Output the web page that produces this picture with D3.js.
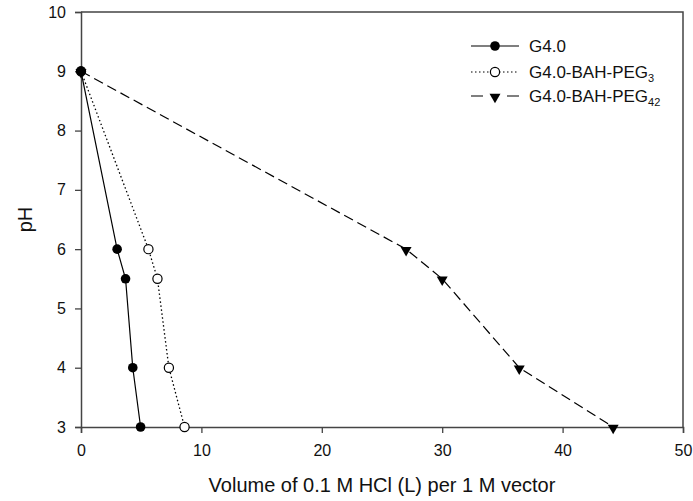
<!DOCTYPE html>
<html>
<head>
<meta charset="utf-8">
<script src="https://cdn.jsdelivr.net/npm/d3@7"></script>
<style>
  body { margin: 0; background: #fff; }
  text { font-family: "Liberation Sans", Arial, sans-serif; fill: #111; }
</style>
</head>
<body>
<div id="chart"></div>
<script>
var svgWidth = 693;
var svgHeight = 501;

// x = volume of HCl, y = pH
var phLevels = [9, 6, 5.5, 4, 3];
var g40 = [0, 3.0, 3.7, 4.3, 4.95];
var peg3 = [0, 5.6, 6.35, 7.3, 8.6];
var peg42 = [0, 27.0, 30.0, 36.4, 44.2];

var seriesNames = ["G4.0", "G4.0-BAH-PEG", "G4.0-BAH-PEG"];
var seriesSubs = ["", "3", "42"];

var xTicks = [0, 10, 20, 30, 40, 50];
var yTicks = [3, 4, 5, 6, 7, 8, 9, 10];

var margin = { top: 12, right: 10, bottom: 74, left: 81 };
var width = 683 - margin.left;
var height = 427 - margin.top;

var svg = d3.select("#chart")
  .append("svg")
  .attr("width", svgWidth)
  .attr("height", svgHeight);

var chartGroup = svg.append("g")
  .attr("transform", `translate(${margin.left}, ${margin.top})`);

var xLinearScale = d3.scaleLinear().domain([0, 50]).range([0, width]);
var yLinearScale = d3.scaleLinear().domain([3, 10]).range([height, 0]);

// frame top + right
chartGroup.append("path")
  .attr("d", `M0,0H${width}V${height}`)
  .attr("fill", "none")
  .attr("stroke", "#444")
  .attr("stroke-width", 1.5);

var bottomAxis = d3.axisBottom(xLinearScale).tickValues(xTicks)
  .tickFormat(d3.format("d")).tickSize(6).tickPadding(12);
var leftAxis = d3.axisLeft(yLinearScale).tickValues(yTicks)
  .tickFormat(d3.format("d")).tickSize(6).tickPadding(9);

var xAxis = chartGroup.append("g")
  .attr("transform", `translate(0, ${height})`)
  .call(bottomAxis);
var yAxis = chartGroup.append("g").call(leftAxis);

[xAxis, yAxis].forEach(function(ax) {
  ax.select(".domain").attr("stroke", "#444").attr("stroke-width", 1.5);
  ax.selectAll(".tick line").attr("stroke", "#444").attr("stroke-width", 1.3);
  ax.selectAll(".tick text")
    .attr("font-size", 16)
    .attr("font-family", "Liberation Sans, Arial, sans-serif")
    .attr("fill", "#111");
});

var line = d3.line()
  .x(d => xLinearScale(d[0]))
  .y(d => yLinearScale(d[1]));

function pairs(xs) {
  return xs.map((v, i) => [v, phLevels[i]]);
}

var styles = [
  { dash: null, marker: "dot" },
  { dash: "1.5,2.5", marker: "ring" },
  { dash: "10,5", marker: "tri" }
];
var allSeries = [g40, peg3, peg42];

function drawMarker(g, type, x, y) {
  if (type === "dot") {
    g.append("circle").attr("cx", x).attr("cy", y).attr("r", 4.8).attr("fill", "#000");
  } else if (type === "ring") {
    g.append("circle").attr("cx", x).attr("cy", y).attr("r", 4.6)
      .attr("fill", "#fff").attr("stroke", "#000").attr("stroke-width", 1.2);
  } else {
    g.append("path")
      .attr("d", d3.symbol().type(d3.symbolTriangle).size(52)())
      .attr("transform", `translate(${x},${y + 1}) rotate(180)`)
      .attr("fill", "#000");
  }
}

// draw back to front so G4.0 sits on top at the start point
[2, 1, 0].forEach(function(i) {
  var data = pairs(allSeries[i]);
  chartGroup.append("path")
    .datum(data)
    .attr("d", line)
    .attr("fill", "none")
    .attr("stroke", "#000")
    .attr("stroke-width", i === 1 ? 1.3 : 1.2)
    .attr("stroke-dasharray", styles[i].dash);
  var mg = chartGroup.append("g");
  data.forEach(function(d) {
    drawMarker(mg, styles[i].marker, xLinearScale(d[0]), yLinearScale(d[1]));
  });
});

// legend
var legend = svg.append("g");
var legendY = [46, 72, 96];
seriesNames.forEach(function(name, i) {
  legend.append("line")
    .attr("x1", 471).attr("x2", 519)
    .attr("y1", legendY[i]).attr("y2", legendY[i])
    .attr("stroke", "#000")
    .attr("stroke-width", 1.2)
    .attr("stroke-dasharray", i === 1 ? "1.5,2.5" : (i === 2 ? "12,24" : null));
  drawMarker(legend, styles[i].marker, 495, legendY[i]);
  var t = legend.append("text")
    .attr("x", 529)
    .attr("y", legendY[i] + 6)
    .attr("font-size", 17)
    .text(name);
  if (seriesSubs[i]) {
    t.append("tspan")
      .attr("font-size", 11)
      .attr("dy", 4)
      .text(seriesSubs[i]);
  }
});

// axis titles
svg.append("text")
  .attr("x", margin.left + width / 2)
  .attr("y", 492)
  .attr("text-anchor", "middle")
  .attr("font-size", 20)
  .text("Volume of 0.1 M HCl (L) per 1 M vector");

svg.append("text")
  .attr("transform", `translate(32, ${margin.top + height / 2}) rotate(-90)`)
  .attr("text-anchor", "middle")
  .attr("font-size", 20)
  .text("pH");
</script>
</body>
</html>
